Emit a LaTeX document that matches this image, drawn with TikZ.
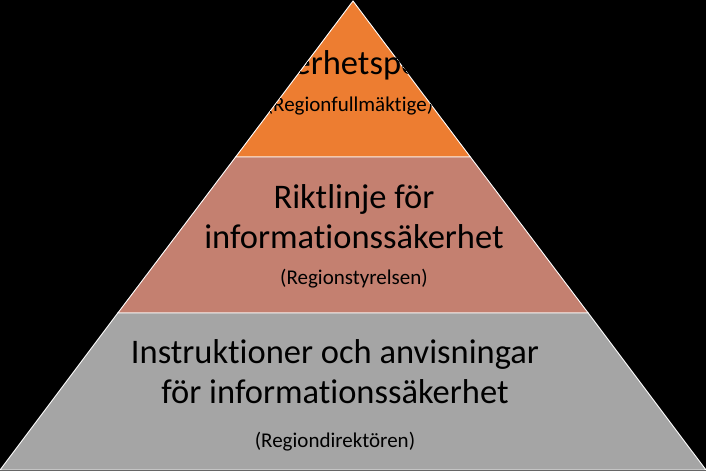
\documentclass[tikz,border=0pt]{standalone}
\usepackage{fontspec}
\setmainfont{Carlito}[Ligatures={NoCommon}]
\definecolor{toporange}{RGB}{237,125,49}
\definecolor{midsalmon}{RGB}{196,128,112}
\definecolor{botgray}{RGB}{165,165,165}
\begin{document}
\begin{tikzpicture}[x=1pt,y=-1pt,
  layer/.style={draw=white,line width=0.9pt,line join=miter},
  bigtxt/.style={font=\fontsize{34.5}{40}\selectfont,text=black,align=center,inner sep=0pt},
  smalltxt/.style={font=\fontsize{21}{24}\selectfont,text=black,inner sep=0pt}]
\fill[black] (0,0) rectangle (706,471);
\useasboundingbox (0,0) rectangle (706,471);
\coordinate (apex) at (353,1);
\coordinate (l1) at (235.6,157);
\coordinate (r1) at (470.4,157);
\coordinate (l2) at (117.8,313);
\coordinate (r2) at (588.2,313);
\coordinate (l3) at (0,470);
\coordinate (r3) at (706,470);
% layers
\filldraw[layer,fill=toporange] (apex) -- (r1) -- (l1) -- cycle;
\filldraw[layer,fill=midsalmon] (l1) -- (r1) -- (r2) -- (l2) -- cycle;
\filldraw[layer,fill=botgray] (l2) -- (r2) -- (r3) -- (l3) -- cycle;
% top text (clipped by triangle)
\begin{scope}
\clip (apex) -- (r1) -- (l1) -- cycle;
\node[bigtxt] (t1) at (356,65) {Säkerhetspolicy};
\node[smalltxt] (t1s) at (350,106) {(Regionfullmäktige)};
\end{scope}
% middle
\node[bigtxt] (t2) at (354,217) {Riktlinje för\\informationssäkerhet};
\node[smalltxt] (t2s) at (354,279) {(Regionstyrelsen)};
% bottom
\node[bigtxt] (t3) at (335,372) {Instruktioner och anvisningar\\för informationssäkerhet};
\node[smalltxt] (t3s) at (335,442) {(Regiondirektören)};
\end{tikzpicture}
\end{document}
